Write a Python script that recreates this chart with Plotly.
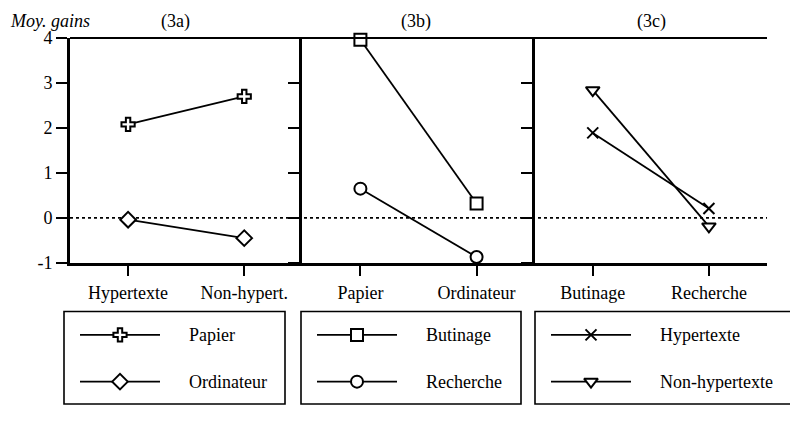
import plotly.graph_objects as go

# ---------------- data ----------------
cats_a = ["Hypertexte", "Non-hypert."]
papier_a = [2.08, 2.70]
ordinateur_a = [-0.04, -0.45]

cats_b = ["Papier", "Ordinateur"]
butinage_b = [3.96, 0.32]
recherche_b = [0.65, -0.87]

cats_c = ["Butinage", "Recherche"]
hypertexte_c = [1.89, 0.21]
nonhyper_c = [2.84, -0.19]

y_ticks = [-1, 0, 1, 2, 3, 4]
y_ticktext = ["-1", "0", "1", "2", "3", "4"]
panel_titles = ["(3a)", "(3b)", "(3c)"]
y_title = "Moy. gains"

# ---------------- geometry ----------------
# The page body keeps its default 8px margin; size the figure so the page is
# exactly the window size, and convert window pixels to figure coordinates.
OFF = 8
W, H = 798 - 2 * OFF, 423 - 2 * OFF
ML, MT, MB = 70 - OFF, 38 - OFF, 0
MR = W - (767 - OFF)
PW, PH = W - ML - MR, H - MT - MB


def fx(px):
    return (px - OFF - ML) / PW


def fy(py):
    return (H - MB - (py - OFF)) / PH


FONT = "Liberation Serif"
FS = 18
ybot = fy(269)

fig = go.Figure()

line_style = dict(color="black", width=1.8)


def mk(symbol, size, fill="white"):
    return dict(symbol=symbol, size=size, color=fill,
                line=dict(color="black", width=2))


series = [
    ("x", "y", cats_a, papier_a, "Papier", mk("cross", 11)),
    ("x", "y", cats_a, ordinateur_a, "Ordinateur", mk("diamond", 12)),
    ("x2", "y2", cats_b, butinage_b, "Butinage", mk("square", 12)),
    ("x2", "y2", cats_b, recherche_b, "Recherche", mk("circle", 12)),
    ("x3", "y3", cats_c, hypertexte_c, "Hypertexte", mk("x-thin", 11, "black")),
    ("x3", "y3", cats_c, nonhyper_c, "Non-hypertexte", mk("triangle-down", 12)),
]

for xa, ya, c, v, name, m in series:
    fig.add_trace(go.Scatter(x=c, y=v, xaxis=xa, yaxis=ya, mode="lines+markers",
                             line=line_style, marker=m, name=name, showlegend=False,
                             cliponaxis=False))

# ---------------- custom legend boxes ----------------
boxes = [(64, 285), (301, 521), (535, 806)]
box_top, box_bot = 319, 414
rows = [343, 391]
sample_off = [(16, 96, 56, 123)] * 3  # line start, line end, marker, label offsets from box left
shapes = []
annotations = []
for bi, (bx0, bx1) in enumerate(boxes):
    shapes.append(dict(type="rect", xref="paper", yref="paper",
                       x0=fx(bx0), x1=fx(bx1), y0=fy(box_bot), y1=fy(box_top),
                       line=dict(color="black", width=1.6), fillcolor="rgba(0,0,0,0)"))
    l0, l1, mm, lab = sample_off[bi]
    for ri, ry in enumerate(rows):
        _, _, _, _, name, m = series[bi * 2 + ri]
        fig.add_trace(go.Scatter(x=[fx(bx0 + l0), fx(bx0 + l1)], y=[fy(ry), fy(ry)],
                                 xaxis="x4", yaxis="y6", mode="lines", line=line_style,
                                 showlegend=False, hoverinfo="skip", cliponaxis=False))
        fig.add_trace(go.Scatter(x=[fx(bx0 + mm)], y=[fy(ry)], xaxis="x4", yaxis="y6",
                                 mode="markers", marker=m, showlegend=False,
                                 hoverinfo="skip", cliponaxis=False))
        annotations.append(dict(text=name, xref="paper", yref="paper",
                                x=fx(bx0 + lab), y=fy(ry), xanchor="left", yanchor="middle",
                                showarrow=False, font=dict(family=FONT, size=FS, color="black")))

# top border and zero line
shapes.append(dict(type="line", xref="paper", yref="paper", x0=0, x1=1, y0=1, y1=1,
                   line=dict(color="black", width=1.8)))
shapes.append(dict(type="line", xref="paper", yref="y", x0=0, x1=1, y0=0, y1=0,
                   line=dict(color="black", width=1.6, dash="dot"), layer="below"))

# titles
annotations.append(dict(text="<i>" + y_title + "</i>", xref="paper", yref="paper",
                        x=fx(OFF), y=fy(OFF), xanchor="left", yanchor="top", showarrow=False,
                        font=dict(family=FONT, size=FS, color="black")))
for t, cx in zip(panel_titles, [175, 416, 651]):
    annotations.append(dict(text=t, xref="paper", yref="paper", x=fx(cx), y=fy(OFF),
                            xanchor="center", yanchor="top", showarrow=False,
                            font=dict(family=FONT, size=FS, color="black")))

tickfont = dict(family=FONT, size=FS, color="black")
xcommon = dict(type="category", range=[-0.5, 1.5], showgrid=False, zeroline=False,
               showline=True, linecolor="black", linewidth=3, ticks="outside",
               ticklen=10, tickwidth=1.6, tickcolor="black", tickfont=tickfont,
               ticklabelstandoff=2)
ycommon = dict(range=[-1, 4], tickvals=y_ticks, ticktext=y_ticktext, showgrid=False,
               zeroline=False, linecolor="black", tickcolor="black", tickwidth=1.6,
               tickfont=tickfont, domain=[ybot, 1])

fig.update_layout(
    width=W, height=H,
    margin=dict(l=ML, r=MR, t=MT, b=MB),
    paper_bgcolor="white", plot_bgcolor="rgba(0,0,0,0)",
    font=dict(family=FONT, size=FS, color="black"),
    showlegend=False,
    xaxis=dict(domain=[0, 1 / 3], anchor="y", **xcommon),
    xaxis2=dict(domain=[1 / 3, 2 / 3], anchor="y2", **xcommon),
    xaxis3=dict(domain=[2 / 3, 1], anchor="y3", **xcommon),
    xaxis4=dict(domain=[0, 1], range=[0, 1], visible=False, anchor="y6"),
    yaxis=dict(anchor="x", side="left", showline=True, linewidth=3, ticks="outside",
               ticklen=11, showticklabels=True, **ycommon),
    yaxis2=dict(anchor="x2", side="left", showline=True, linewidth=3, ticks="outside",
                ticklen=11, showticklabels=False, **ycommon),
    yaxis3=dict(anchor="x3", side="left", showline=True, linewidth=3, ticks="outside",
                ticklen=11, showticklabels=False, **ycommon),
    yaxis4=dict(anchor="x3", overlaying="y3", side="right", showline=True, linewidth=3,
                ticks="outside", ticklen=9, showticklabels=True, ticklabelstandoff=2,
                **ycommon),
    yaxis5=dict(anchor="x3", overlaying="y3", side="left", showline=False,
                ticks="inside", ticklen=9, showticklabels=False, **ycommon),
    yaxis6=dict(domain=[0, ybot - 0.02], range=[0, ybot - 0.02], visible=False, anchor="x4"),
    shapes=shapes,
    annotations=annotations,
)

fig.write_html("out.html")
